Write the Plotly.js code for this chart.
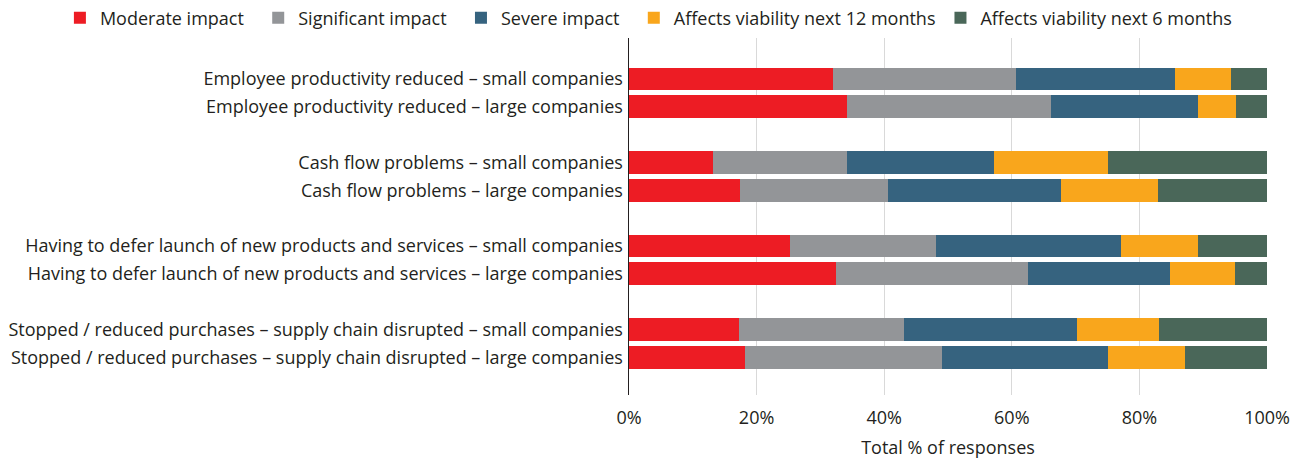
<!DOCTYPE html>
<html>
<head>
<meta charset="utf-8">
<script src="https://cdn.plot.ly/plotly-3.0.1.min.js"></script>
<style>html,body{margin:0;padding:0;background:#fff;}#chart{width:1301px;height:459px;}</style>
</head>
<body>
<div id="chart"></div>
<script>
const categories = [
  "Employee productivity reduced – small companies",
  "Employee productivity reduced – large companies",
  "Cash flow problems – small companies",
  "Cash flow problems – large companies",
  "Having to defer launch of new products and services – small companies",
  "Having to defer launch of new products and services – large companies",
  "Stopped / reduced purchases – supply chain disrupted – small companies",
  "Stopped / reduced purchases – supply chain disrupted – large companies"
];
const rowPositions = [0, 1, 3, 4, 6, 7, 9, 10];
const seriesNames = ["Moderate impact", "Significant impact", "Severe impact", "Affects viability next 12 months", "Affects viability next 6 months"];
const moderate    = [31.9, 34.1, 13.1, 17.4, 25.2, 32.4, 17.2, 18.2];
const significant = [28.8, 32.0, 21.0, 23.2, 22.9, 30.1, 25.9, 30.8];
const severe      = [24.9, 23.1, 23.1, 27.1, 29.0, 22.3, 27.1, 26.0];
const viab12      = [8.8, 5.9, 17.8, 15.2, 12.1, 10.2, 12.9, 12.1];
const viab6       = [5.6, 4.9, 25.0, 17.1, 10.8, 5.0, 16.9, 12.9];
const colors = ["#ED1C24", "#939598", "#36637F", "#F9A61C", "#4A6759"];
const series = [moderate, significant, severe, viab12, viab6];
// extra legend spacing after each entry (non-breaking spaces)
const legendPad = [2, 2, 2, 0, 0];

const traces = series.map((vals, i) => ({
  type: "bar",
  orientation: "h",
  name: seriesNames[i] + "\u00a0".repeat(legendPad[i]),
  x: vals,
  y: rowPositions,
  width: 0.82,
  marker: {color: colors[i], line: {width: 0}},
  hoverinfo: "skip"
}));

const FONT = "'Open Sans', 'Noto Sans', sans-serif";
const layout = {
  width: 1301,
  height: 459,
  margin: {l: 629, r: 34, t: 38, b: 64, autoexpand: false},
  barmode: "stack",
  paper_bgcolor: "#fff",
  plot_bgcolor: "#fff",
  font: {family: FONT, size: 18, color: "#231f20"},
  showlegend: true,
  legend: {
    orientation: "h",
    x: -0.892, xanchor: "left",
    y: 1.056, yanchor: "middle",
    font: {family: FONT, size: 18, color: "#231f20"},
    traceorder: "normal"
  },
  xaxis: {
    range: [0, 100],
    tickvals: [0, 20, 40, 60, 80, 100],
    ticktext: ["0%", "20%", "40%", "60%", "80%", "100%"],
    showgrid: true,
    gridcolor: "#d9d9d9",
    gridwidth: 1,
    zeroline: false,
    showline: false,
    ticks: "",
    ticklabelstandoff: 10,
    tickfont: {family: FONT, size: 18, color: "#231f20"},
    title: {text: "Total % of responses", font: {family: FONT, size: 18, color: "#231f20"}, standoff: 13},
    fixedrange: true
  },
  yaxis: {
    range: [11.35, -1.47],
    tickvals: rowPositions,
    ticktext: categories,
    showgrid: false,
    zeroline: false,
    showline: true,
    linecolor: "#231f20",
    linewidth: 1.5,
    ticks: "",
    ticklabelstandoff: 1,
    tickfont: {family: FONT, size: 18, color: "#231f20"},
    fixedrange: true
  }
};

Plotly.newPlot("chart", traces, layout, {displayModeBar: false, staticPlot: true});
</script>
</body>
</html>
